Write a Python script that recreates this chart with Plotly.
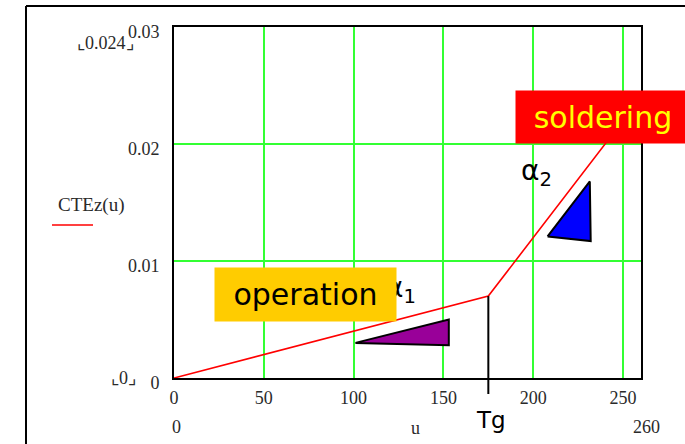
import plotly.graph_objects as go

# ---- data ----
u_pts = [0, 175, 260]                 # temperature breakpoints (Tg = 175)
cte_pts = [0.0, 0.007, 0.024]         # CTEz(u)
Tg = 175
x_ticks = [0, 50, 100, 150, 200, 250]
y_ticks = [0, 0.01, 0.02, 0.03]
y_tick_text = ["0", "0.01", "0.02", "0.03"]
tri1_x = [101, 153, 153, 101]
tri1_y = [0.0030, 0.0050, 0.0028, 0.0030]
tri2_x = [208, 231.5, 232, 208]
tri2_y = [0.0121, 0.0168, 0.0117, 0.0121]

W, H = 685, 444
L, R, T, B = 174, 44, 27, 66
PW, PH = W - L - R, H - T - B

def xp(px):
    return (px - L) / PW

def yp(py):
    return (H - B - py) / PH

serif = "Liberation Serif"
sans = "DejaVu Sans"
grid_green = "#33ff33"
lab_col = "#2a2a2a"

fig = go.Figure()
fig.add_trace(go.Scatter(x=u_pts, y=cte_pts, mode="lines",
                         line=dict(color="#ff0000", width=1.6), showlegend=False,
                         hoverinfo="skip"))
fig.add_trace(go.Scatter(x=tri1_x, y=tri1_y, mode="lines", fill="toself",
                         fillcolor="#990099", line=dict(color="black", width=2),
                         showlegend=False, hoverinfo="skip"))
fig.add_trace(go.Scatter(x=tri2_x, y=tri2_y, mode="lines", fill="toself",
                         fillcolor="#0000ff", line=dict(color="black", width=2),
                         showlegend=False, hoverinfo="skip"))

tg_val = cte_pts[1]
shapes = [
    # Tg marker line
    dict(type="line", xref="x", yref="paper", x0=Tg, x1=Tg,
         y0=yp(394), y1=tg_val / y_ticks[-1], line=dict(color="black", width=2)),
    # outer frame (left + top)
    dict(type="line", xref="paper", yref="paper", x0=xp(26), x1=xp(26),
         y0=yp(6), y1=yp(450), line=dict(color="black", width=2)),
    dict(type="line", xref="paper", yref="paper", x0=xp(26), x1=xp(690),
         y0=yp(6), y1=yp(6), line=dict(color="black", width=2)),
    # legend line
    dict(type="line", xref="paper", yref="paper", x0=xp(52), x1=xp(93),
         y0=yp(225), y1=yp(225), line=dict(color="#ff0000", width=1.6)),
]

ann = []
def txt(text, px, py, size=18, family=serif, color=lab_col, **kw):
    ann.append(dict(text=text, xref="paper", yref="paper", x=xp(px), y=yp(py),
                    xanchor="center", yanchor="middle", showarrow=False,
                    font=dict(family=family, size=size, color=color), **kw))

txt("⌞0.024⌟", 105, 43, size=18)
txt("⌞0⌟", 123, 378, size=18)
txt("CTEz(u)", 91, 205, size=19)
txt("0", 176, 427, size=18)
txt("u", 415, 428, size=18)
txt("260", 646, 427, size=18)
txt("Tg", 491, 420, size=23, family=sans, color="black")
txt("α<sub>1</sub>", 400, 289, size=28, family=sans, color="black")
txt("α<sub>2</sub>", 536, 172, size=28, family=sans, color="black")
txt("operation", 305.5, 294.5, size=30, family=sans, color="black",
    bgcolor="#ffcc00", width=181, height=53, borderpad=0)
txt("soldering", 603, 117, size=30, family=sans, color="#ffff00",
    bgcolor="#ff0000", width=174, height=52, borderpad=0)

fig.update_layout(
    width=W, height=H, margin=dict(l=L, r=R, t=T, b=B),
    paper_bgcolor="white", plot_bgcolor="white",
    shapes=shapes, annotations=ann,
    xaxis=dict(range=[0, 260], tickvals=x_ticks, showgrid=True, gridcolor=grid_green,
               gridwidth=1.5, zeroline=False, showline=True, mirror=True,
               linecolor="black", linewidth=2, ticks="", ticklabelstandoff=2,
               tickfont=dict(family=serif, size=18, color=lab_col)),
    yaxis=dict(range=[0, 0.03], tickvals=y_ticks, ticktext=y_tick_text, showgrid=True,
               gridcolor=grid_green, gridwidth=1.5, zeroline=False, showline=True,
               mirror=True, linecolor="black", linewidth=2, ticks="",
               ticklabelstandoff=9, ticklabelshift=5,
               tickfont=dict(family=serif, size=18, color=lab_col)),
)

fig.write_html("out.html", config={"displayModeBar": False},
               post_script="document.body.style.margin='0px';"
                           "document.body.style.overflow='hidden';")
